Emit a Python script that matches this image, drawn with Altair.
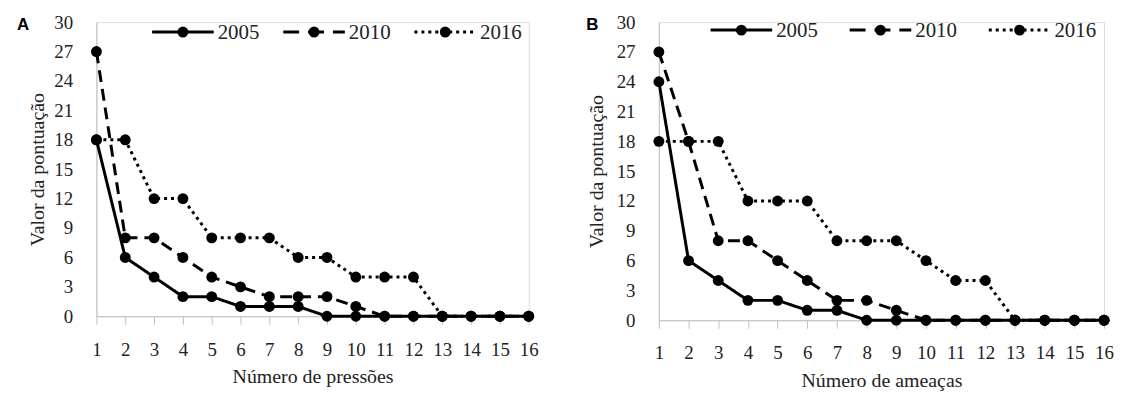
import altair as alt
import pandas as pd

x_vals = list(range(1, 17))
series = ["2005", "2010", "2016"]

a_2005 = [18, 6, 4, 2, 2, 1, 1, 1, 0, 0, 0, 0, 0, 0, 0, 0]
a_2010 = [27, 8, 8, 6, 4, 3, 2, 2, 2, 1, 0, 0, 0, 0, 0, 0]
a_2016 = [18, 18, 12, 12, 8, 8, 8, 6, 6, 4, 4, 4, 0, 0, 0, 0]

b_2005 = [24, 6, 4, 2, 2, 1, 1, 0, 0, 0, 0, 0, 0, 0, 0, 0]
b_2010 = [27, 18, 8, 8, 6, 4, 2, 2, 1, 0, 0, 0, 0, 0, 0, 0]
b_2016 = [18, 18, 18, 12, 12, 12, 8, 8, 8, 6, 4, 4, 0, 0, 0, 0]

y_ticks = list(range(0, 31, 3))
dashes = [[1, 0], [12, 7], [3, 4]]
legend_dashes = [[1, 0], [16, 9], [3, 4]]

SERIF = "Liberation Serif"
TXT = "#222222"
AXC = "#bfbfbf"


def long_df(vals):
    rows = []
    for s, v in zip(series, vals):
        for xi, yi in zip(x_vals, v):
            rows.append({"x": xi, "v": yi, "series": s})
    return pd.DataFrame(rows)


def panel(vals, letter, xtitle, w, h, leg_off, pitch, leg_y, letter_x, ytitle_pad):
    df = long_df(vals)
    xaxis = alt.Axis(
        values=x_vals, format="d", title=xtitle, grid=False,
        domainColor=AXC, tickColor=AXC, tickSize=8, labelPadding=16,
        labelFont=SERIF, labelFontSize=19, labelColor=TXT,
        labelFlush=False, labelOverlap=False,
        titleFont=SERIF, titleFontSize=20, titleFontWeight="normal",
        titleColor=TXT, titlePadding=8,
    )
    yaxis = alt.Axis(
        values=y_ticks, title="Valor da pontuação", grid=False,
        domainColor=AXC, ticks=False, labelPadding=24,
        labelFont=SERIF, labelFontSize=19, labelColor=TXT,
        labelOverlap=False,
        titleFont=SERIF, titleFontSize=20, titleFontWeight="normal",
        titleColor=TXT, titlePadding=ytitle_pad,
    )
    xenc = alt.X("x:Q", scale=alt.Scale(domain=[1, 16], nice=False, zero=False), axis=xaxis)
    yenc = alt.Y("v:Q", scale=alt.Scale(domain=[0, 30], nice=False), axis=yaxis)
    base = alt.Chart(df).encode(x=xenc, y=yenc)
    lines = base.mark_line(color="black", strokeWidth=3).encode(
        strokeDash=alt.StrokeDash("series:N", scale=alt.Scale(domain=series, range=dashes), legend=None),
        detail="series:N",
    )
    pts = base.mark_circle(color="black", size=120, opacity=1)

    layers = [lines, pts]
    one = pd.DataFrame({"k": [0]})
    for i, s in enumerate(series):
        x0 = leg_off + i * pitch
        layers.append(
            alt.Chart(one).mark_rule(color="black", strokeWidth=3, strokeDash=legend_dashes[i]).encode(
                x=alt.value(x0), x2=alt.value(x0 + 62), y=alt.value(leg_y)
            )
        )
        layers.append(
            alt.Chart(one).mark_circle(color="black", size=120, opacity=1).encode(
                x=alt.value(x0 + 31), y=alt.value(leg_y)
            )
        )
        layers.append(
            alt.Chart(one).mark_text(
                text=s, font=SERIF, fontSize=21, color=TXT, align="left", baseline="middle"
            ).encode(x=alt.value(x0 + 66), y=alt.value(leg_y + 1))
        )
    layers.append(
        alt.Chart(one).mark_text(
            text=letter, font="Liberation Sans", fontSize=17, fontWeight="bold",
            color="black", align="left", baseline="middle"
        ).encode(x=alt.value(letter_x), y=alt.value(3))
    )
    return alt.layer(*layers).properties(width=w, height=h)


pa = panel([a_2005, a_2010, a_2016], "A", "Número de pressões", 435, 296, 56, 132, 10, -80, 6)
pb = panel([b_2005, b_2010, b_2016], "B", "Número de ameaças", 448, 300, 52, 140, 8, -73, 10)

chart = alt.hconcat(pa, pb, spacing=47).properties(
    padding={"left": 8, "top": 3, "right": 0, "bottom": 0}
).configure_view(stroke=None).configure(background="white")

chart.save("out.html", embed_options={"renderer": "svg", "actions": False})
